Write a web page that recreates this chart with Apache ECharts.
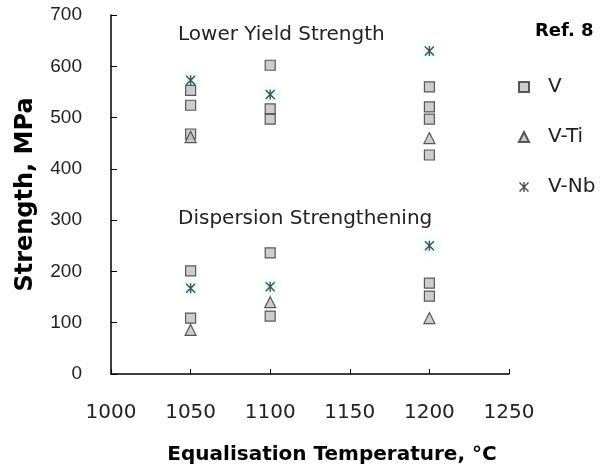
<!DOCTYPE html>
<html><head><meta charset="utf-8">
<script src="https://cdn.jsdelivr.net/npm/echarts@6/dist/echarts.min.js"></script>
<style>html,body{margin:0;padding:0;background:#fff}#c{width:611px;height:470px}</style>
</head><body><div id="c"></div>
<script>
const xTicks = [1000, 1050, 1100, 1150, 1200, 1250];
const yTicks = [0, 100, 200, 300, 400, 500, 600, 700];
const seriesNames = ['V', 'V-Ti', 'V-Nb'];
const dataV = [[1050,553],[1050,524],[1050,468],[1100,602],[1100,517],[1100,497],[1200,560],[1200,521],[1200,497],[1200,427],[1050,201],[1050,109],[1100,236],[1100,113],[1200,177],[1200,152]];
const dataVTi = [[1050,462],[1200,460],[1050,86],[1100,140],[1200,109]];
const dataVNb = [[1050,573],[1100,545],[1200,630],[1050,167],[1100,170],[1200,250]];
const annotations = ['Lower Yield Strength', 'Dispersion Strengthening'];
const refLabel = 'Ref. 8';

const asterisk = 'path://M4.3,0 L5.7,0 L5.7,10 L4.3,10 Z M0,1 L1,0 L10,9 L9,10 Z M9,0 L10,1 L1,10 L0,9 Z';
const sans = '"Liberation Sans", Arial, sans-serif';
const dv = '"DejaVu Sans", sans-serif';
const chart = echarts.init(document.getElementById('c'));
chart.setOption({
  animation: false,
  grid: {left: 111, top: 15, width: 398, height: 359, containLabel: false, outerBoundsMode: 'none'},
  xAxis: {
    type: 'value', min: xTicks[0], max: xTicks[xTicks.length-1], interval: 50,
    axisLine: {show: true, lineStyle: {color: '#000', width: 1.5}},
    axisTick: {show: true, inside: true, length: 5, lineStyle: {color: '#000'}},
    splitLine: {show: false},
    axisLabel: {color: '#222', fontSize: 20, fontFamily: dv, margin: 29, formatter: v => String(v)},
    name: 'Equalisation Temperature, °C', nameLocation: 'middle', nameGap: 71,
    nameTextStyle: {color: '#000', fontSize: 20, fontWeight: 'bold', fontFamily: dv, padding: [0, 0, 0, 44]}
  },
  yAxis: {
    type: 'value', min: yTicks[0], max: yTicks[yTicks.length-1], interval: 100,
    axisLine: {show: true, lineStyle: {color: '#000', width: 1.5}},
    axisTick: {show: true, inside: true, length: 6, lineStyle: {color: '#000'}},
    splitLine: {show: false},
    axisLabel: {color: '#222', fontSize: 19, fontFamily: sans, margin: 29},
    name: 'Strength, MPa', nameLocation: 'middle', nameGap: 73,
    nameTextStyle: {color: '#000', fontSize: 24, fontWeight: 'bold', fontFamily: dv}
  },
  legend: {
    orient: 'vertical', left: 513, top: 72, itemGap: 30,
    itemWidth: 10, itemHeight: 10,
    textStyle: {fontSize: 20, lineHeight: 20, color: '#222', fontFamily: dv, padding: [0,0,0,14]},
    data: seriesNames
  },
  graphic: [
    {type: 'text', left: 178, top: 25, style: {text: annotations[0], font: '20px ' + dv, fill: '#222'}},
    {type: 'text', left: 178, top: 209, style: {text: annotations[1], font: '20px ' + dv, fill: '#222'}},
    {type: 'text', left: 535, top: 22, style: {text: refLabel, font: 'bold 18px ' + dv, fill: '#000'}}
  ],
  series: [
    {name: seriesNames[0], type: 'scatter', data: dataV, symbol: 'rect', symbolSize: 10,
     itemStyle: {color: '#c0c0c0', borderColor: '#333', borderWidth: 1.2}, z: 2},
    {name: seriesNames[1], type: 'scatter', data: dataVTi, symbol: 'triangle', symbolSize: [11, 11],
     itemStyle: {color: '#c0c0c0', borderColor: '#333', borderWidth: 1.2}, z: 3},
    {name: seriesNames[2], type: 'scatter', data: dataVNb, symbol: asterisk, symbolSize: 10,
     itemStyle: {color: '#222', shadowBlur: 10, shadowColor: 'rgba(0,230,230,0.7)'}, z: 4}
  ]
});
</script></body></html>
